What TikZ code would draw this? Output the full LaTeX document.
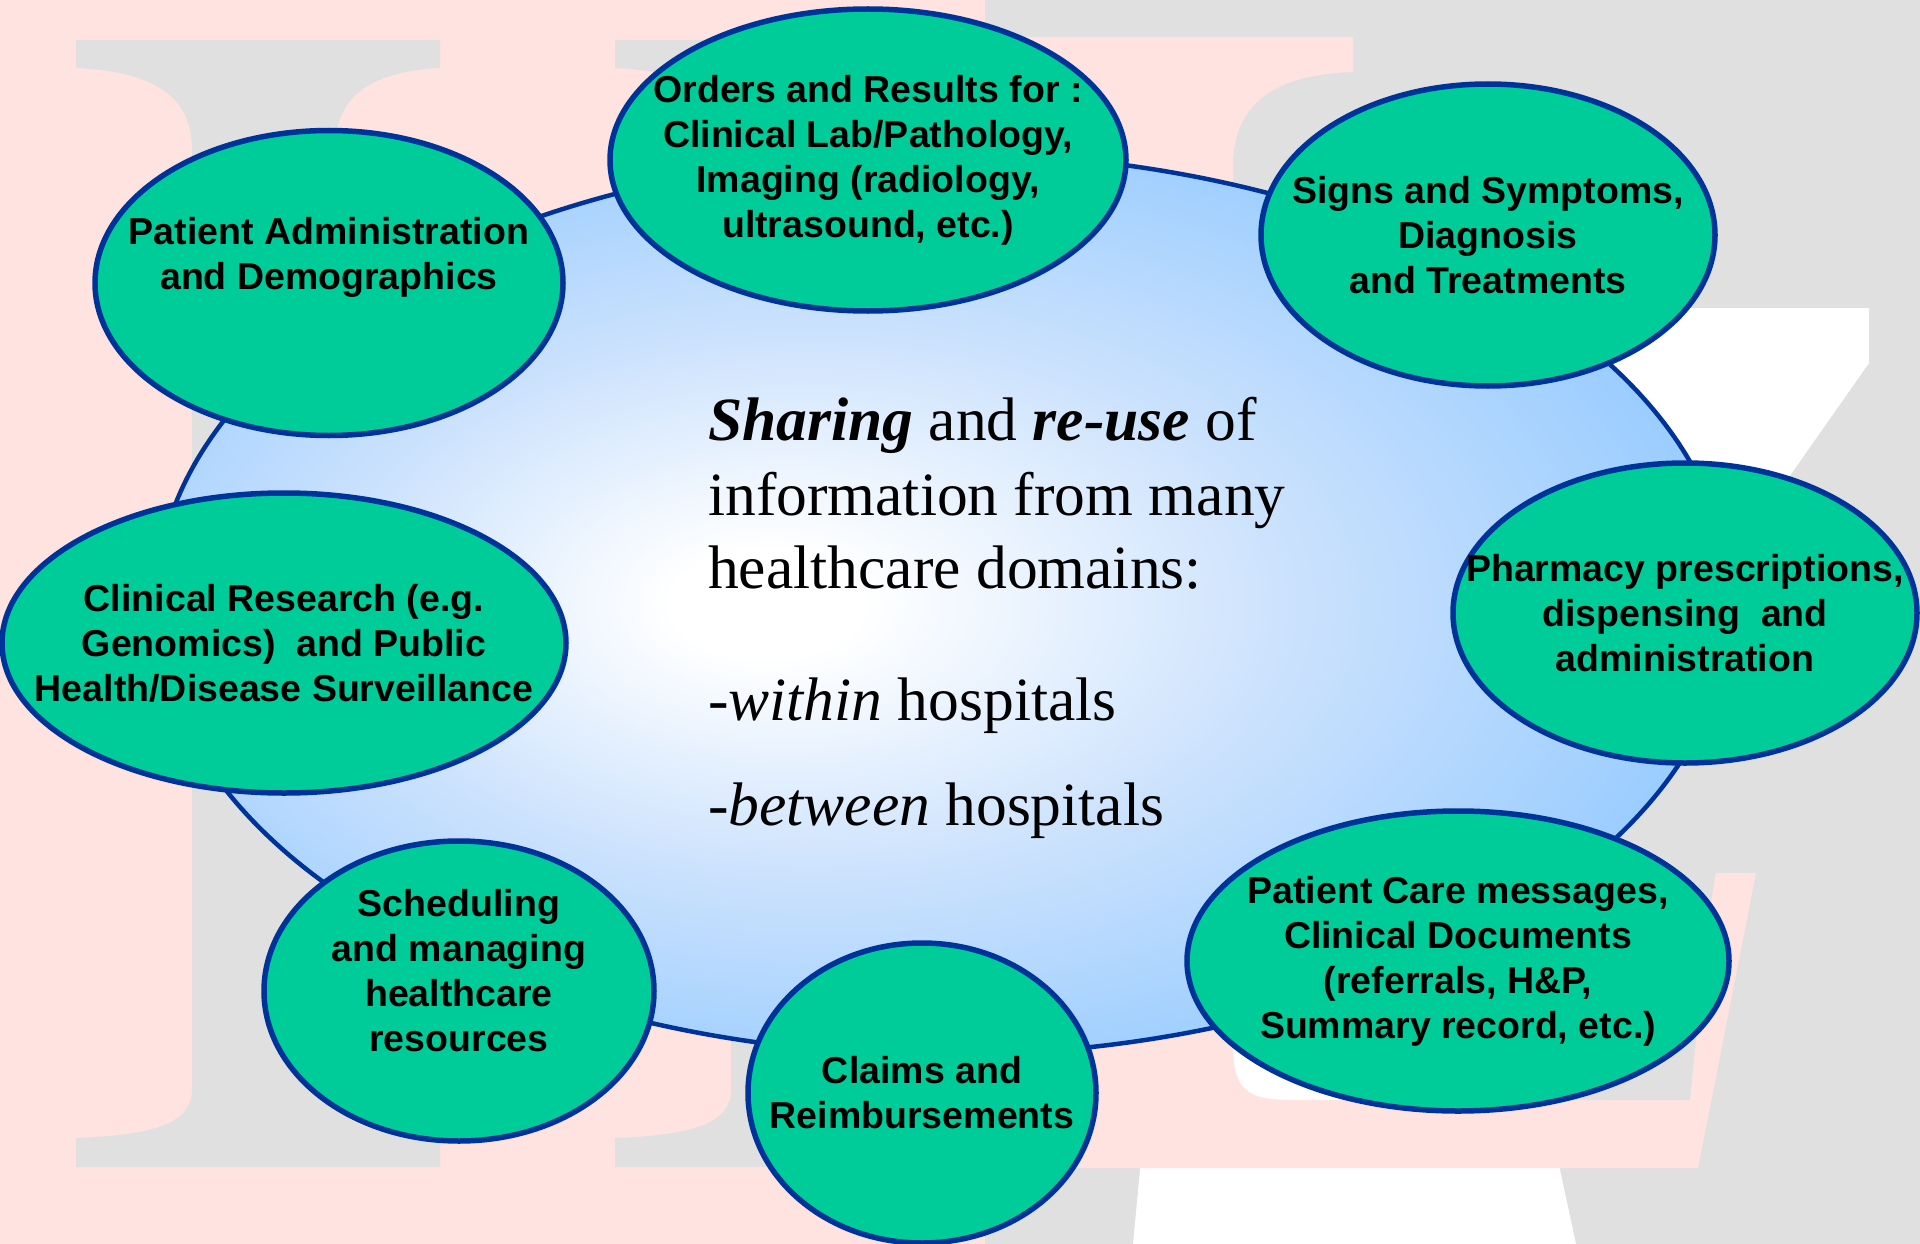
\documentclass[tikz,border=0pt]{standalone}
\usepackage{fontspec}
\setmainfont{Liberation Serif}
\newfontfamily\arialf{Liberation Sans}
\usetikzlibrary{shapes.geometric}
\definecolor{bgpink}{HTML}{FFE3E0}
\definecolor{bggray}{HTML}{E0E0E0}
\definecolor{bubgreen}{HTML}{00CC99}
\definecolor{bordblue}{HTML}{003399}
\definecolor{skyblue}{HTML}{99CCFF}
\definecolor{midblue}{HTML}{CCE2FD}
\pgfdeclareradialshading{bigshade}{\pgfpoint{-6bp}{0bp}}{color(0bp)=(white); color(3bp)=(white); color(15bp)=(midblue); color(28bp)=(skyblue); color(50bp)=(skyblue)}
\begin{document}
\begin{tikzpicture}[x=1pt,y=-1pt,
  bub/.style={ellipse, draw=bordblue, fill=bubgreen, line width=5.5pt, inner sep=0pt},
  btxt/.style={align=center, font=\arialf\bfseries\fontsize{37.5}{45}\selectfont, inner sep=0pt, text=black},
  ctxt/.style={anchor=base west, font=\fontsize{61.5}{74}\selectfont, inner sep=0pt, text=black}]
\useasboundingbox (0,0) rectangle (1920,1244);
% background watermark
\begin{scope}
\clip (0,0) rectangle (1920,1244);
\fill[bgpink] (0,0) rectangle (986,1244);
\fill[bggray] (985,0) rectangle (1920,1244);
% H (gray on pink)
\foreach \dx in {0,539} {
\fill[bggray, xshift=\dx pt] (76,40) -- (440,40) -- (440,68)
  .. controls (365,72) and (335,100) .. (335,150) -- (335,1090)
  .. controls (335,1125) and (375,1135) .. (440,1138) -- (440,1167) -- (76,1167) -- (76,1138)
  .. controls (150,1135) and (192,1125) .. (192,1090) -- (192,150)
  .. controls (192,100) and (160,72) .. (76,68) -- cycle;
}
\fill[bggray] (986,40) rectangle (1000,68);
\fill[bggray] (986,1138) rectangle (1000,1167);
% 7 (white on gray)
\fill[white] (1480,308) -- (1869,308) -- (1869,363) -- (1789,477)
  .. controls (1680,650) and (1570,900) .. (1560,1170) -- (1576,1244) -- (1133,1244) -- (1140,1170)
  .. controls (1200,900) and (1350,600) .. (1480,380) -- cycle;
% L (pink on gray)
\fill[bgpink] (985,37) -- (1353,37) -- (1353,72)
  .. controls (1265,75) and (1233,110) .. (1233,167) -- (1233,1045)
  .. controls (1233,1088) and (1245,1100) .. (1290,1100) -- (1690,1100)
  .. controls (1700,1000) and (1710,900) .. (1716,873) -- (1756,873) -- (1698,1168) -- (985,1168) -- cycle;
\end{scope}
% central ellipse
\path[shading=bigshade, draw=bordblue, line width=4.5pt] (943,604) ellipse (787 and 451);
% surrounding ellipses
\node[bub, minimum width=516pt, minimum height=302pt] (e1) at (868,160) {};
\node[bub, minimum width=454pt, minimum height=302pt] (e2) at (1488,235) {};
\node[bub, minimum width=468pt, minimum height=305pt] (e3) at (329,283) {};
\node[bub, minimum width=464pt, minimum height=300pt] (e4) at (1685,613) {};
\node[bub, minimum width=564pt, minimum height=300pt] (e5) at (284,643) {};
\node[bub, minimum width=390pt, minimum height=300pt] (e6) at (459,991) {};
\node[bub, minimum width=348pt, minimum height=300pt] (e7) at (922,1093) {};
\node[bub, minimum width=542pt, minimum height=300pt] (e8) at (1458,961) {};
% texts
\node[btxt] (t1) at (e1.center) {Orders and Results for :\\Clinical Lab/Pathology,\\Imaging (radiology,\\ultrasound, etc.)};
\node[btxt] (t2) at (e2.center) {Signs and Symptoms,\\Diagnosis\\and Treatments};
\node[btxt] (t3) at ([yshift=26pt]e3.center) {Patient Administration\\and Demographics};
\node[btxt] (t4) at (e4.center) {Pharmacy prescriptions,\\dispensing\ \ and\\administration};
\node[btxt] (t5) at (e5.center) {Clinical Research (e.g.\\Genomics)\ \ and Public\\Health/Disease Surveillance};
\node[btxt] (t6) at ([yshift=20pt]e6.center) {Scheduling\\and managing\\healthcare\\resources};
\node[btxt] (t7) at (e7.center) {Claims and\\Reimbursements};
\node[btxt] (t8) at (e8.center) {Patient Care messages,\\Clinical Documents\\(referrals, H\&P,\\Summary record, etc.)};
% central text
\node[ctxt] (c1) at (708,440) {\textbf{\textit{Sharing}} and \textbf{\textit{re-use}} of};
\node[ctxt] (c2) at (708,515) {information from many};
\node[ctxt] (c3) at (708,588) {healthcare domains:};
\node[ctxt] (c4) at (708,720) {-\textit{within} hospitals};
\node[ctxt] (c5) at (708,825) {-\textit{between} hospitals};
\end{tikzpicture}
\end{document}
